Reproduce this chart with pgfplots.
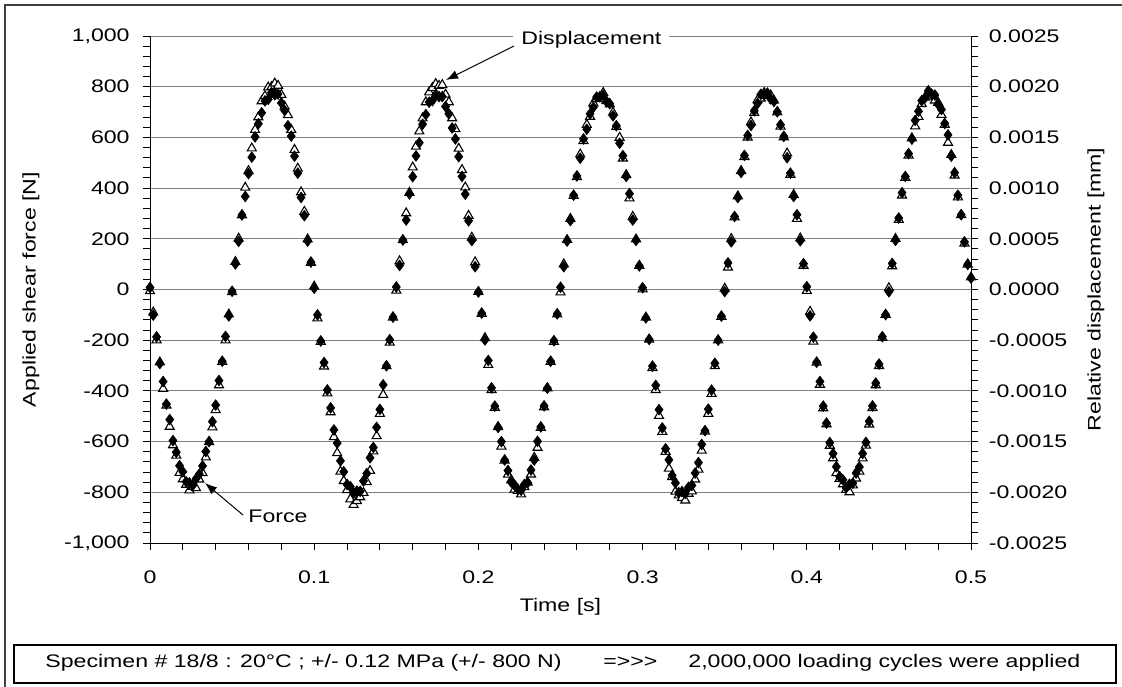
\documentclass[border=0pt]{standalone}
\usepackage{fontspec}
\setmainfont{Liberation Sans}[FakeStretch=1.27]
\usepackage{pgfplots}
\pgfplotsset{compat=1.18}
\usepackage{pgfplotstable}
\usetikzlibrary{arrows.meta}

\pgfplotstableread{
t F
0.000 8
0.002 -101
0.004 -187
0.006 -292
0.008 -363
0.010 -452
0.012 -513
0.014 -596
0.016 -642
0.018 -695
0.020 -719
0.022 -758
0.024 -763
0.026 -773
0.028 -747
0.030 -728
0.032 -696
0.034 -639
0.036 -600
0.038 -521
0.040 -456
0.042 -359
0.044 -283
0.046 -185
0.048 -104
0.050 -7
0.052 101
0.054 190
0.056 294
0.058 367
0.060 457
0.062 522
0.064 602
0.066 654
0.068 697
0.070 744
0.072 750
0.074 777
0.076 768
0.078 771
0.080 736
0.082 706
0.084 646
0.086 605
0.088 526
0.090 459
0.092 363
0.094 291
0.096 191
0.098 108
0.100 5
0.102 -100
0.104 -203
0.106 -288
0.108 -396
0.110 -467
0.112 -554
0.114 -606
0.116 -676
0.118 -719
0.120 -769
0.122 -778
0.124 -803
0.126 -795
0.128 -796
0.130 -755
0.132 -726
0.134 -664
0.136 -623
0.138 -544
0.140 -473
0.142 -376
0.144 -301
0.146 -198
0.148 -109
0.150 10
0.152 95
0.154 195
0.156 274
0.158 377
0.160 445
0.162 527
0.164 579
0.166 652
0.168 690
0.170 739
0.172 745
0.174 768
0.176 761
0.178 761
0.180 722
0.182 693
0.184 637
0.186 594
0.188 524
0.190 446
0.192 376
0.194 271
0.196 193
0.198 90
0.200 -10
0.202 -93
0.204 -199
0.206 -280
0.208 -388
0.210 -460
0.212 -544
0.214 -600
0.216 -673
0.218 -714
0.220 -760
0.222 -771
0.224 -788
0.226 -792
0.228 -769
0.230 -762
0.232 -712
0.234 -673
0.236 -599
0.238 -542
0.240 -459
0.242 -389
0.244 -283
0.246 -202
0.248 -96
0.250 9
0.252 90
0.254 191
0.256 272
0.258 372
0.260 448
0.262 518
0.264 594
0.266 632
0.268 693
0.270 719
0.272 759
0.274 760
0.276 766
0.278 741
0.280 733
0.282 685
0.284 646
0.286 577
0.288 528
0.290 446
0.292 378
0.294 274
0.296 194
0.298 93
0.300 7
0.302 -112
0.304 -197
0.306 -302
0.308 -378
0.310 -474
0.312 -546
0.314 -628
0.316 -672
0.318 -733
0.320 -763
0.322 -801
0.324 -797
0.326 -805
0.328 -780
0.330 -773
0.332 -724
0.334 -683
0.336 -611
0.338 -557
0.340 -472
0.342 -397
0.344 -291
0.346 -200
0.348 -105
0.350 -8
0.352 105
0.354 188
0.356 288
0.358 363
0.360 462
0.362 529
0.364 608
0.366 647
0.368 705
0.370 734
0.372 770
0.374 768
0.376 775
0.378 752
0.380 742
0.382 701
0.384 650
0.386 604
0.388 520
0.390 459
0.392 367
0.394 295
0.396 192
0.398 102
0.400 11
0.402 -104
0.404 -188
0.406 -287
0.408 -363
0.410 -460
0.412 -527
0.414 -604
0.416 -647
0.418 -699
0.420 -738
0.422 -751
0.424 -782
0.426 -768
0.428 -764
0.430 -724
0.432 -700
0.434 -647
0.436 -603
0.438 -520
0.440 -459
0.442 -369
0.444 -294
0.446 -186
0.448 -99
0.450 -9
0.452 103
0.454 194
0.456 282
0.458 382
0.460 446
0.462 536
0.464 593
0.466 667
0.468 703
0.470 745
0.472 756
0.474 784
0.476 771
0.478 767
0.480 730
0.482 710
0.484 655
0.486 610
0.488 526
0.490 461
0.492 372
0.494 295
0.496 188
0.498 99
0.500 45
}\forcedata

\pgfplotstableread{
t D
0.000 -0.000015
0.002 -0.000225
0.004 -0.000500
0.006 -0.000718
0.008 -0.000978
0.010 -0.001143
0.012 -0.001353
0.014 -0.001535
0.016 -0.001638
0.018 -0.001808
0.020 -0.001870
0.022 -0.001925
0.024 -0.001980
0.026 -0.001945
0.028 -0.001958
0.030 -0.001873
0.032 -0.001810
0.034 -0.001655
0.036 -0.001503
0.038 -0.001358
0.040 -0.001188
0.042 -0.000943
0.044 -0.000713
0.046 -0.000500
0.048 -0.000245
0.050 -0.000025
0.052 0.000273
0.054 0.000503
0.056 0.000733
0.058 0.001005
0.060 0.001170
0.062 0.001393
0.064 0.001575
0.066 0.001700
0.068 0.001858
0.070 0.001908
0.072 0.001995
0.074 0.001998
0.076 0.002033
0.078 0.002010
0.080 0.001920
0.082 0.001805
0.084 0.001720
0.086 0.001575
0.088 0.001378
0.090 0.001193
0.092 0.000960
0.094 0.000768
0.096 0.000495
0.098 0.000265
0.100 0.000030
0.102 -0.000283
0.104 -0.000515
0.106 -0.000758
0.108 -0.001023
0.110 -0.001210
0.112 -0.001455
0.114 -0.001613
0.116 -0.001795
0.118 -0.001888
0.120 -0.001978
0.122 -0.002068
0.124 -0.002123
0.126 -0.002085
0.128 -0.002048
0.130 -0.002005
0.132 -0.001898
0.134 -0.001788
0.136 -0.001595
0.138 -0.001445
0.140 -0.001225
0.142 -0.001038
0.144 -0.000755
0.146 -0.000523
0.148 -0.000275
0.150 -0.000010
0.152 0.000280
0.154 0.000488
0.156 0.000753
0.158 0.000955
0.160 0.001205
0.162 0.001410
0.164 0.001560
0.166 0.001688
0.168 0.001848
0.170 0.001945
0.172 0.001988
0.174 0.002028
0.176 0.002010
0.178 0.002018
0.180 0.001923
0.182 0.001848
0.184 0.001690
0.186 0.001583
0.188 0.001390
0.190 0.001180
0.192 0.001008
0.194 0.000728
0.196 0.000513
0.198 0.000270
0.200 -0.000023
0.202 -0.000238
0.204 -0.000478
0.206 -0.000743
0.208 -0.000990
0.210 -0.001165
0.212 -0.001355
0.214 -0.001548
0.216 -0.001685
0.218 -0.001825
0.220 -0.001880
0.222 -0.001973
0.224 -0.001985
0.226 -0.002020
0.228 -0.001948
0.230 -0.001903
0.232 -0.001823
0.234 -0.001658
0.236 -0.001560
0.238 -0.001363
0.240 -0.001160
0.242 -0.000973
0.244 -0.000713
0.246 -0.000515
0.248 -0.000245
0.250 -0.000028
0.252 0.000250
0.254 0.000490
0.256 0.000698
0.258 0.000925
0.260 0.001110
0.262 0.001333
0.264 0.001465
0.266 0.001625
0.268 0.001705
0.270 0.001838
0.272 0.001880
0.274 0.001898
0.276 0.001940
0.278 0.001860
0.280 0.001828
0.282 0.001745
0.284 0.001605
0.286 0.001498
0.288 0.001293
0.290 0.001130
0.292 0.000900
0.294 0.000718
0.296 0.000495
0.298 0.000235
0.300 0.000003
0.302 -0.000275
0.304 -0.000493
0.306 -0.000773
0.308 -0.000990
0.310 -0.001245
0.312 -0.001403
0.314 -0.001600
0.316 -0.001765
0.318 -0.001848
0.320 -0.001993
0.322 -0.002030
0.324 -0.002055
0.326 -0.002080
0.328 -0.002013
0.330 -0.001990
0.332 -0.001873
0.334 -0.001775
0.336 -0.001588
0.338 -0.001400
0.340 -0.001225
0.342 -0.001028
0.344 -0.000755
0.346 -0.000500
0.348 -0.000268
0.350 0.000010
0.352 0.000218
0.354 0.000500
0.356 0.000713
0.358 0.000920
0.360 0.001170
0.362 0.001308
0.364 0.001500
0.366 0.001650
0.368 0.001743
0.370 0.001868
0.372 0.001885
0.374 0.001940
0.376 0.001913
0.378 0.001915
0.380 0.001863
0.382 0.001748
0.384 0.001608
0.386 0.001503
0.388 0.001343
0.390 0.001133
0.392 0.000935
0.394 0.000698
0.396 0.000505
0.398 0.000235
0.400 -0.000013
0.402 -0.000218
0.404 -0.000513
0.406 -0.000720
0.408 -0.000938
0.410 -0.001170
0.412 -0.001328
0.414 -0.001540
0.416 -0.001663
0.418 -0.001810
0.420 -0.001865
0.422 -0.001920
0.424 -0.001975
0.426 -0.001998
0.428 -0.001930
0.430 -0.001863
0.432 -0.001795
0.434 -0.001665
0.436 -0.001538
0.438 -0.001330
0.440 -0.001168
0.442 -0.000943
0.444 -0.000753
0.446 -0.000475
0.448 -0.000248
0.450 0.000015
0.452 0.000230
0.454 0.000500
0.456 0.000688
0.458 0.000928
0.460 0.001103
0.462 0.001323
0.464 0.001493
0.466 0.001610
0.468 0.001703
0.470 0.001830
0.472 0.001895
0.474 0.001903
0.476 0.001913
0.478 0.001865
0.480 0.001843
0.482 0.001723
0.484 0.001625
0.486 0.001448
0.488 0.001328
0.490 0.001125
0.492 0.000910
0.494 0.000735
0.496 0.000455
0.498 0.000248
0.500 0.000120
}\dispdata

\begin{document}
\begin{tikzpicture}[font=\fontsize{9.1}{11}\selectfont]
\useasboundingbox (-75pt,-71.5pt) rectangle (486pt,271.5pt);
% displacement axis (right), drawn first with the grid
\begin{axis}[
  at={(0pt,0pt)}, anchor=south west,
  scale only axis, width=410.5pt, height=253.5pt,
  xmin=0, xmax=0.5, ymin=-0.0025, ymax=0.0025,
  axis x line=none, axis y line*=right,
  axis line style={black, line width=0.5pt, -},
  ytick={-0.0025,-0.002,-0.0015,-0.001,-0.0005,0,0.0005,0.001,0.0015,0.002,0.0025}, minor y tick num=4,
  tick align=outside, major tick length=3.5pt, minor tick length=3.5pt,
  every tick/.style={black, line width=0.5pt},
  ymajorgrids, major grid style={gray, line width=0.5pt},
  every tick label/.append style={inner sep=0pt, font=\fontsize{9.1}{11}\selectfont},
  yticklabel={\pgfmathprintnumber[fixed,fixed zerofill,precision=4,assume math mode=true]{\tick}},
  scaled y ticks=false,
  yticklabel shift=5.25pt,
  clip=false,
]
\addplot[only marks, mark=triangle*, mark size=2.6pt, mark options={fill=white, draw=black, line width=0.55pt}] table[x=t,y=D] {\dispdata};
\end{axis}
% force axis (left + bottom)
\begin{axis}[
  at={(0pt,0pt)}, anchor=south west,
  scale only axis, width=410.5pt, height=253.5pt,
  xmin=0, xmax=0.5, ymin=-1000, ymax=1000,
  axis x line*=bottom, axis y line*=left,
  axis line style={black, line width=0.5pt, -},
  xtick={0,0.1,0.2,0.3,0.4,0.5}, minor x tick num=4,
  ytick={-1000,-800,-600,-400,-200,0,200,400,600,800,1000}, minor y tick num=4,
  tick align=outside, major tick length=3.5pt, minor tick length=3.5pt,
  every tick/.style={black, line width=0.5pt},
  every tick label/.append style={inner sep=0pt, font=\fontsize{9.1}{11}\selectfont},
  xticklabel={\pgfmathprintnumber[assume math mode=true]{\tick}},
  yticklabel={\pgfmathprintnumber[assume math mode=true,1000 sep={,}]{\tick}},
  scaled x ticks=false, scaled y ticks=false,
  xticklabel shift=10pt, yticklabel shift=6.5pt,
  clip=false,
]
\addplot[only marks, mark=diamond*, mark size=2.7pt, mark options={fill=black, draw=black, line width=0.3pt}] table[x=t,y=F] {\forcedata};
\end{axis}
% labels
\node[rotate=90] at (-59.5pt,126.75pt) {Applied shear force [N]};
\node[rotate=90] at (473pt,126.75pt) {Relative displacement [mm]};
\node at (205.25pt,-32pt) {Time [s]};
% annotations
\node[fill=white, inner xsep=4pt, inner ysep=1.5pt, anchor=west] at (181.5pt,251.5pt) {Displacement};
\draw[-{Latex[length=6pt,width=4.5pt]}, line width=0.5pt] (182pt,248.5pt) -- (148pt,231.5pt);
\node[anchor=west, inner sep=0pt] at (49pt,13.5pt) {Force};
\draw[-{Latex[length=6pt,width=4.5pt]}, line width=0.5pt] (46.5pt,14pt) -- (27.5pt,30pt);
% bottom box
\draw[line width=0.6pt] (-68pt,-51pt) rectangle (483pt,-70pt);
\node[anchor=base west, inner sep=0pt] at (-52.5pt,-62pt) {Specimen \# 18/8 : 20°C ; +/- 0.12 MPa (+/- 800 N)};
\node[anchor=base west, inner sep=0pt] at (226.5pt,-62pt) {=\kern0pt>\kern0pt>\kern0pt>};
\node[anchor=base west, inner sep=0pt] at (269pt,-62pt) {2,000,000 loading cycles were applied};
% outer frame
\draw[line width=0.9pt, black!75] (-72.5pt,-100pt) -- (-72.5pt,269pt) -- (520pt,269pt);
\end{tikzpicture}
\end{document}
